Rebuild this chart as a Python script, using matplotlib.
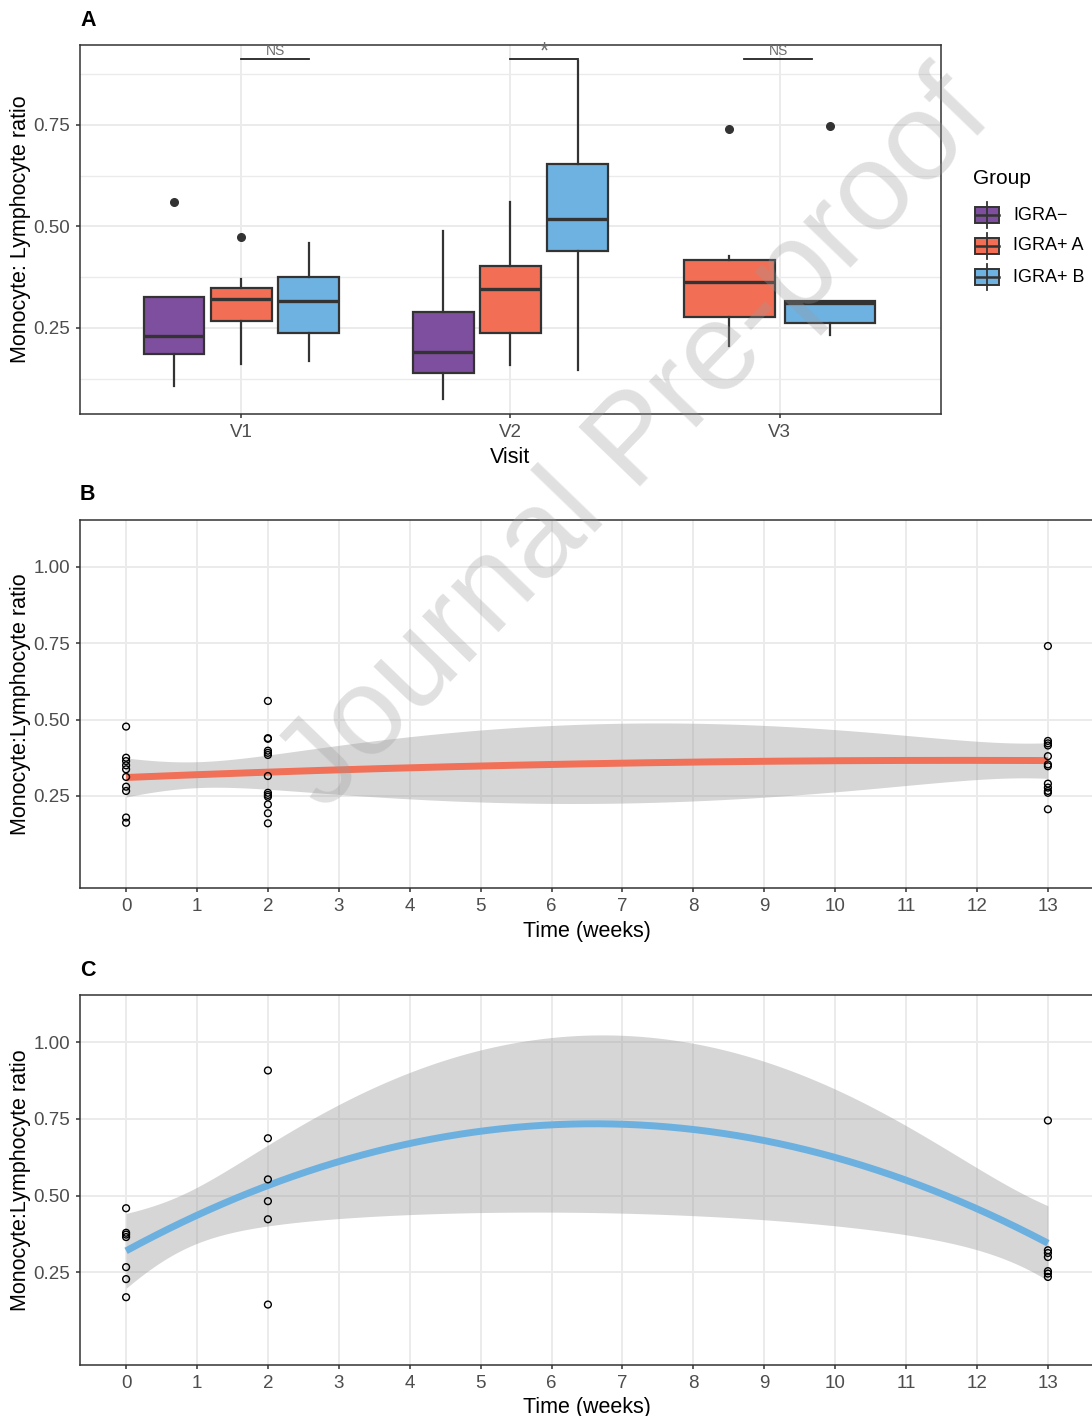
import numpy as np
import matplotlib.pyplot as plt
from matplotlib.patches import Rectangle

plt.rcParams['font.family'] = ['Liberation Sans', 'DejaVu Sans']

groups = ['IGRA\u2212', 'IGRA+ A', 'IGRA+ B']
group_colors = ['#7F4F9F', '#F26F56', '#6EB2E2']
visits = ['V1', 'V2', 'V3']

# box summaries, one entry per (visit, group)
box_visit = [1, 1, 1, 2, 2, 2, 3, 3]
box_group = [0, 1, 2, 0, 1, 2, 1, 2]
box_q1 = [0.186, 0.268, 0.238, 0.138, 0.238, 0.439, 0.278, 0.261]
box_med = [0.230, 0.321, 0.317, 0.190, 0.347, 0.518, 0.362, 0.311]
box_q3 = [0.326, 0.348, 0.375, 0.289, 0.403, 0.654, 0.417, 0.317]
box_lo = [0.108, 0.161, 0.169, 0.075, 0.159, 0.147, 0.206, 0.232]
box_hi = [0.326, 0.370, 0.460, 0.490, 0.560, 0.908, 0.427, 0.317]
box_out = [[0.561], [0.473], [], [], [], [], [0.739], [0.747]]

# significance brackets (IGRA+ A vs IGRA+ B)
sig_x0 = [1.0, 2.0, 2.867]
sig_x1 = [1.25, 2.25, 3.122]
sig_y = 0.913
sig_text = ['NS', '*', 'NS']

# individual ratios over time
weeks = [0, 2, 13]
igra_a = [
    [0.162, 0.179, 0.266, 0.280, 0.312, 0.337, 0.350, 0.364, 0.375, 0.477],
    [0.160, 0.193, 0.222, 0.247, 0.253, 0.260, 0.315, 0.384, 0.391, 0.398,
     0.437, 0.439, 0.561],
    [0.206, 0.260, 0.266, 0.277, 0.290, 0.347, 0.353, 0.380, 0.415, 0.422,
     0.430, 0.741],
]
igra_b = [
    [0.169, 0.228, 0.267, 0.365, 0.373, 0.379, 0.459],
    [0.145, 0.423, 0.482, 0.553, 0.687, 0.908],
    [0.235, 0.246, 0.254, 0.300, 0.313, 0.322, 0.745],
]
week_ticks = list(range(14))
ci_z = 1.644854  # two-sided 90% band

INK = '#333333'
GRID = '#EBEBEB'
TICKLAB = '#4D4D4D'
W, H = 1092, 1416


def style_axes(ax):
    for s in ax.spines.values():
        s.set_color(INK)
        s.set_linewidth(1.1)
    ax.tick_params(length=3, width=1.1, color=INK, labelcolor=TICKLAB,
                   labelsize=13.5, pad=4)
    ax.tick_params(which='minor', length=0)
    ax.set_axisbelow(True)
    ax.grid(True, which='major', color=GRID, lw=1.4)


def quad_smooth(x, y, grid):
    X = np.vander(x, 3)
    beta, *_ = np.linalg.lstsq(X, y, rcond=None)
    resid = y - X @ beta
    df = len(x) - 3
    cov = (resid @ resid / df) * np.linalg.inv(X.T @ X)
    G = np.vander(grid, 3)
    fit = G @ beta
    se = np.sqrt(np.einsum('ij,jk,ik->i', G, cov, G))
    z = ci_z
    t = z + (z**3 + z) / (4 * df) + (5 * z**5 + 16 * z**3 + 3 * z) / (96 * df**2)
    return fit, fit - t * se, fit + t * se


fig = plt.figure(figsize=(W / 100, H / 100), dpi=100)

# ---- A: boxplots by visit ----
axA = fig.add_axes([80 / W, 1 - 414 / H, 861 / W, 369 / H])
style_axes(axA)
per_visit = {v: box_visit.count(v) for v in set(box_visit)}
seen = {}
stats, pos, wid, cols = [], [], [], []
for i in range(len(box_visit)):
    v = box_visit[i]
    n = per_visit[v]
    k = seen.get(v, 0)
    seen[v] = k + 1
    slot = 0.75 / n
    pos.append(v - 0.375 + slot * (k + 0.5))
    wid.append(0.9 * slot)
    cols.append(group_colors[box_group[i]])
    stats.append(dict(q1=box_q1[i], med=box_med[i], q3=box_q3[i],
                      whislo=box_lo[i], whishi=box_hi[i], fliers=box_out[i]))
bp = axA.bxp(stats, positions=pos, widths=wid, patch_artist=True,
             showcaps=False,
             boxprops=dict(edgecolor=INK, linewidth=1.6),
             medianprops=dict(color=INK, linewidth=2.4),
             whiskerprops=dict(color=INK, linewidth=1.6),
             flierprops=dict(marker='o', markerfacecolor=INK,
                             markeredgecolor=INK, markersize=5.5))
for patch, c in zip(bp['boxes'], cols):
    patch.set_facecolor(c)
for x0, x1, lab in zip(sig_x0, sig_x1, sig_text):
    axA.plot([x0, x1], [sig_y, sig_y], color='#222222', lw=1.3, zorder=4)
    if lab == '*':
        axA.text((x0 + x1) / 2, sig_y - 0.012, lab, ha='center',
                 va='bottom', fontsize=17, color='#6E6E6E')
    else:
        axA.text((x0 + x1) / 2, sig_y + 0.002, lab, ha='center',
                 va='bottom', fontsize=10, color='#6E6E6E')
axA.set_xlim(0.4, 3.6)
axA.set_ylim(0.038, 0.947)
axA.set_xticks([1, 2, 3])
axA.set_xticklabels(visits)
axA.set_yticks([0.25, 0.50, 0.75])
axA.set_yticklabels(['0.25', '0.50', '0.75'])
axA.set_yticks([0.125, 0.375, 0.625, 0.875], minor=True)
axA.grid(True, which='minor', axis='y', color=GRID, lw=1.0)
axA.set_xlabel('Visit', fontsize=15.5)
axA.xaxis.set_label_coords(0.5, -0.09)
axA.set_ylabel('Monocyte: Lymphocyte ratio', fontsize=15.5)
axA.yaxis.set_label_coords(-0.057, 0.5)


# ---- B and C: ratio over time with quadratic smooth ----
def time_panel(rect, data, line_color, xlab_y):
    ax = fig.add_axes(rect)
    style_axes(ax)
    x = np.concatenate([[w] * len(d) for w, d in zip(weeks, data)]).astype(float)
    y = np.concatenate(data)
    grid = np.linspace(min(weeks), max(weeks), 200)
    fit, lo, hi = quad_smooth(x, y, grid)
    ax.fill_between(grid, lo, hi, color='#999999', alpha=0.4, lw=0, zorder=2)
    ax.plot(grid, fit, color=line_color, lw=5, zorder=3,
            solid_capstyle='butt')
    ax.scatter(x, y, s=24, facecolors='none', edgecolors='black',
               linewidths=1.0, zorder=4)
    ax.set_xlim(-0.65, 13.65)
    ax.set_ylim(-0.052, 1.154)
    ax.set_xticks(week_ticks)
    ax.set_yticks([0.25, 0.50, 0.75, 1.00])
    ax.set_yticklabels(['0.25', '0.50', '0.75', '1.00'])
    ax.set_xlabel('Time (weeks)', fontsize=15.5)
    ax.xaxis.set_label_coords(0.5, xlab_y)
    ax.set_ylabel('Monocyte:Lymphocyte ratio', fontsize=15.5)
    ax.yaxis.set_label_coords(-0.048, 0.5)
    return ax


time_panel([80 / W, 1 - 888 / H, 1014 / W, 368 / H], igra_a, '#F07058', -0.091)
time_panel([80 / W, 1 - 1365 / H, 1014 / W, 370 / H], igra_b, '#6CB0E0', -0.086)

# ---- overlay: panel tags, legend, watermark ----
over = fig.add_axes([0, 0, 1, 1], zorder=10)
over.set_xlim(0, W)
over.set_ylim(H, 0)
over.axis('off')
over.patch.set_alpha(0)

for tag, ty in zip(['A', 'B', 'C'], [20, 495, 970]):
    over.text(80, ty, tag, ha='left', va='center', fontsize=15.5,
              fontweight='bold', color='black')

over.text(973, 178, 'Group', ha='left', va='center', fontsize=15)
for i, (g, c) in enumerate(zip(groups, group_colors)):
    cy = 215 + 31 * i
    over.plot([987, 987], [cy - 13, cy + 13], color=INK, lw=1.3)
    over.add_patch(Rectangle((975, cy - 8), 24, 16, facecolor=c,
                             edgecolor=INK, lw=1.4))
    over.plot([975, 999], [cy, cy], color=INK, lw=1.8)
    over.text(1013, cy, g, ha='left', va='center', fontsize=13)

over.text(637, 443, 'Journal Pre-proof', rotation=46, ha='center',
          va='center', fontsize=90, color='#9A9A9A', alpha=0.3)

fig.savefig('out.png', dpi=100)
